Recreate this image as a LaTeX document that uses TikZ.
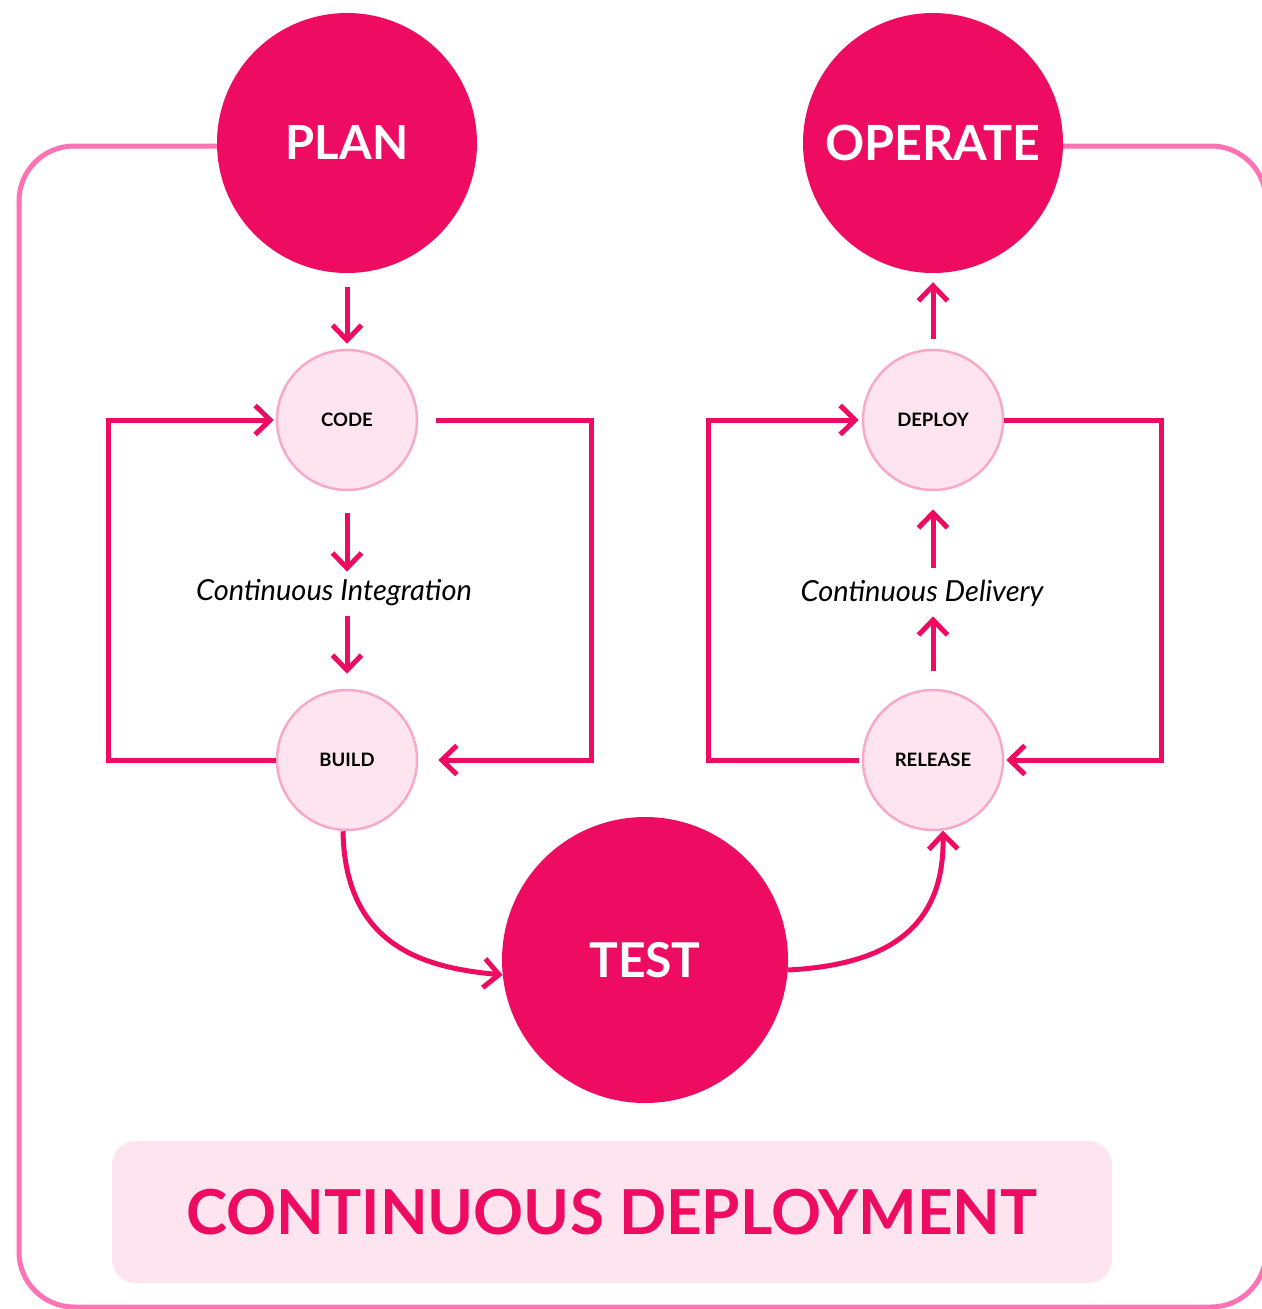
\documentclass[tikz,border=0pt]{standalone}
\usepackage{fontspec}
\setmainfont{Lato}
\usetikzlibrary{arrows.meta,backgrounds}
\definecolor{brand}{HTML}{EE0C62}
\definecolor{framepink}{HTML}{FF72B4}
\definecolor{blush}{HTML}{FDE4EF}
\definecolor{rim}{HTML}{F7A9CA}
\tikzset{
  bigstage/.style={circle, fill=brand, text=white, inner sep=0pt,
    minimum size=260pt, font=\bfseries\fontsize{47}{47}\selectfont},
  smallstage/.style={circle, fill=blush, draw=rim, line width=2.5pt, inner sep=0pt,
    minimum size=140pt, font=\bfseries\fontsize{18.5}{18.5}\selectfont},
  phase/.style={font=\itshape\fontsize{29}{29}\selectfont, inner sep=0pt},
  flow/.style={draw=brand, line width=5pt,
    -{Straight Barb[length=15pt,width=29pt]}},
  outline/.style={draw=framepink, line width=5pt, rounded corners=55pt},
  banner/.style={fill=blush, rounded corners=24pt, minimum width=1000pt,
    minimum height=142pt, text=brand,
    font=\bfseries\fontsize{62}{62}\selectfont}
}
\begin{document}
\begin{tikzpicture}[x=1pt,y=-1pt]
\useasboundingbox (0,0) rectangle (1261,1309);

% stages
\node[bigstage] (plan) at (347,143) {PLAN};
\node[bigstage, font=\bfseries\fontsize{48.5}{48.5}\selectfont] (operate) at (933,143) {OPERATE};
\node[bigstage, minimum size=286pt, font=\bfseries\fontsize{48}{48}\selectfont] (test) at (645,960) {TEST};

\node[smallstage] (code) at (347,420) {CODE};
\node[smallstage] (build) at (347,760) {BUILD};
\node[smallstage] (deploy) at (933,420) {DEPLOY};
\node[smallstage] (release) at (933,760) {RELEASE};

\node[phase] (ci) at (334,593) {Continuous Integration};
\node[phase] (cdl) at (922,593) {Continuous Delivery};

\node[banner] (cd) at (612,1212) {CONTINUOUS DEPLOYMENT};

% outer frame, broken at the two top stages
\coordinate (tl) at (19,146);
\coordinate (bl) at (19,1307);
\coordinate (br) at (1266,1307);
\coordinate (tr) at (1266,146);
\begin{scope}[on background layer]
  \draw[outline] (plan.center |- tl) -- (tl) -- (bl) -- (br) -- (tr) -- (operate.center |- tr);
\end{scope}

% continuous integration
\draw[flow, shorten <=14pt, shorten >=5pt] (plan) -- (code);
\draw[flow] ([yshift=-22pt]code.south) -- ([yshift=8pt]code.south |- ci.north);
\draw[flow] ([yshift=-10pt]build.north |- ci.south) -- ([yshift=15pt]build.north);
\draw[flow, shorten >=2pt] (build.west) -- ++(-167,0) |- (code.west);
\draw[flow] ([xshift=18pt]code.east) -- ++(155,0) |- ([xshift=20pt]build.east);

% continuous delivery
\draw[flow] ([yshift=18pt]release.north) -- ([yshift=-10pt]release.north |- cdl.south);
\draw[flow] ([yshift=12pt]deploy.south |- cdl.north) -- ([yshift=-18pt]deploy.south);
\draw[flow] ([yshift=10pt]deploy.north) -- ([yshift=-9pt]operate.south);
\draw[flow, shorten >=3pt] ([xshift=-3pt]release.west) -- ++(-150,0) |- (deploy.west);
\draw[flow] (deploy.east) -- ++(157,0) |- ([xshift=2pt]release.east);

% test hand-offs
\draw[flow] ([xshift=-4pt]build.south) .. controls (345,950) and (430,968) .. (test.186);
\draw[flow] (test.-4) .. controls (885,965) and (945,930) .. (release.-82);
\end{tikzpicture}
\end{document}
